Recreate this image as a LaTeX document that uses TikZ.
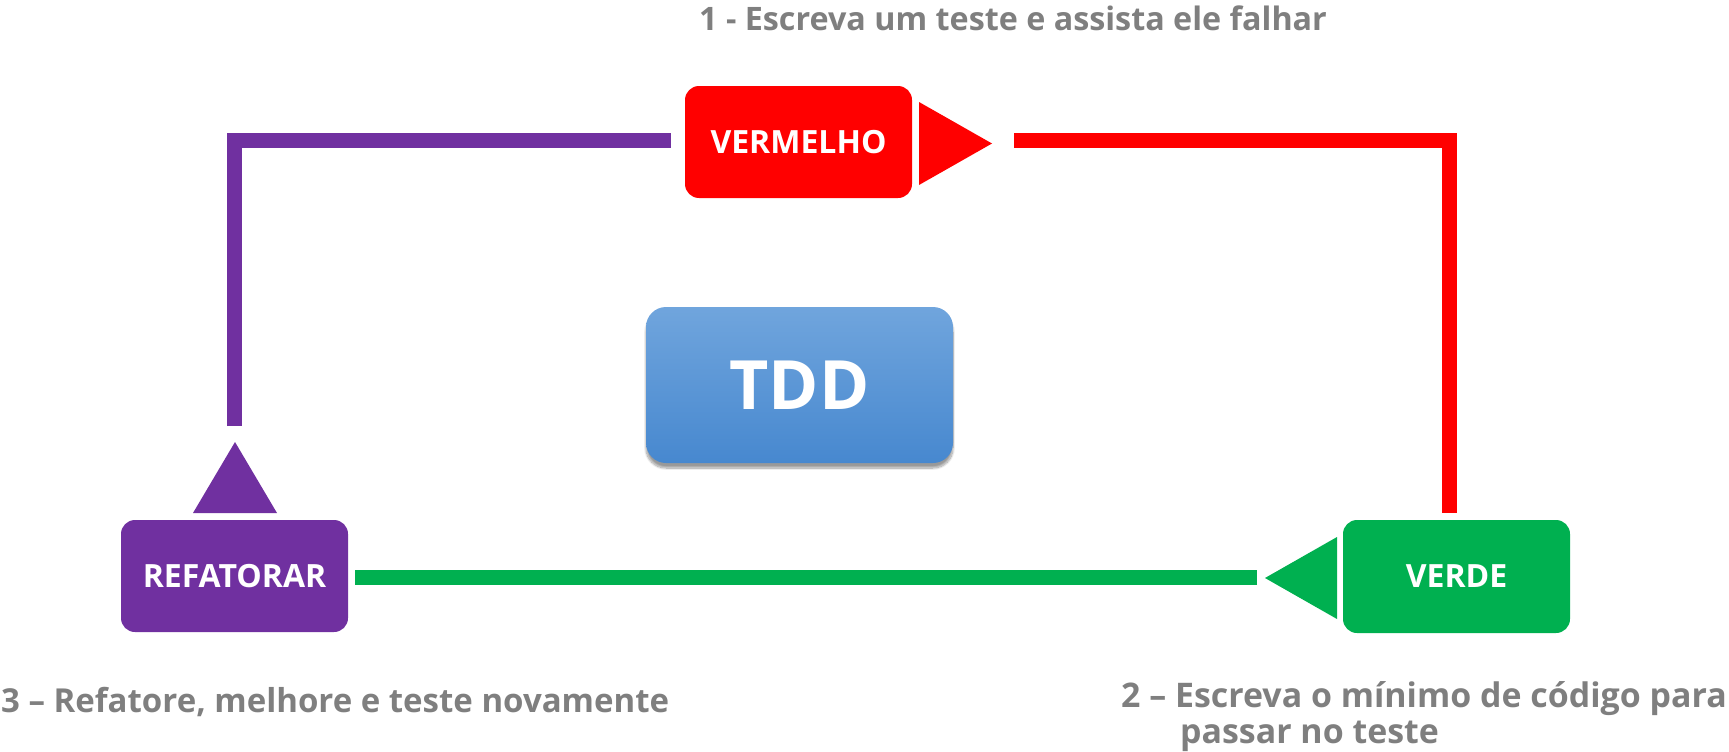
\documentclass[tikz,border=0pt]{standalone}
\usepackage{fontspec}
\setmainfont{Open Sans}
\usetikzlibrary{shadows.blur}
\definecolor{tddred}{HTML}{FF0000}
\definecolor{tddpurple}{HTML}{7030A0}
\definecolor{tddgreen}{HTML}{00B050}
\definecolor{tddtop}{HTML}{70A5DD}
\definecolor{tddbot}{HTML}{4788CF}
\definecolor{tddgray}{HTML}{7F7F7F}
\tikzset{
  stage/.style={rounded corners=14pt, minimum width=227pt, minimum height=112pt, inner sep=0pt,
    text=white, font=\fontsize{32}{36}\selectfont\bfseries},
  flow/.style={line width=15pt, line cap=butt, line join=miter},
  caption/.style={text=tddgray, inner sep=0pt, font=\fontsize{33}{38}\selectfont\bfseries},
}
\begin{document}
\begin{tikzpicture}[x=1pt,y=-1pt]
\useasboundingbox (0,0) rectangle (1729,752);
% boxes
\node[stage, fill=tddred] (verm) at (798.5,142) {VERMELHO};
\node[stage, fill=tddpurple] (ref) at (234.5,576) {REFATORAR};
\node[stage, fill=tddgreen, minimum height=113pt] (verde) at (1456.5,576.5) {VERDE};
\node[rounded corners=20pt, minimum width=307pt, minimum height=156pt, inner sep=0pt,
  top color=tddtop, bottom color=tddbot, draw=none,
  blur shadow={shadow xshift=0pt, shadow yshift=-5pt, shadow blur steps=12, shadow opacity=40},
  text=white, font=\fontsize{68}{76}\selectfont\bfseries] (tdd) at (799.5,385) {TDD};
% connector end points
\coordinate (p1) at (234.5,426);
\coordinate (p2) at (234.5,140.5);
\coordinate (p3) at (671,140.5);
\coordinate (r1) at (1014,140.5);
\coordinate (r2) at (1449.5,140.5);
\coordinate (r3) at (1449.5,513);
\coordinate (g1) at (1257,577);
\coordinate (g2) at (355,577);
% connectors
\draw[flow, tddpurple] (p1) -- (p2) -- (p3);
\draw[flow, tddred] (r1) -- (r2) -- (r3);
\draw[flow, tddgreen] (g1) -- (g2);
% arrow triangles
\fill[tddred] (919,102) -- (919,185) -- (992,143.5) -- cycle;
\fill[tddpurple] (193,513) -- (277,513) -- (235,442) -- cycle;
\fill[tddgreen] (1337,537) -- (1337,619) -- (1265,578) -- cycle;
% captions
\node[caption, anchor=base west, font=\fontsize{32.3}{38}\selectfont\bfseries] (c1) at (699,31) {1 - Escreva um teste e assista ele falhar};
\node[caption, anchor=base west] (c3) at (1,712) {3 – Refatore, melhore e teste novamente};
\node[caption, anchor=base west, font=\fontsize{33.9}{38}\selectfont\bfseries] (c2a) at (1121,707) {2 – Escreva o mínimo de código para};
\node[caption, anchor=base west, font=\fontsize{33.9}{38}\selectfont\bfseries] (c2b) at (1180,743) {passar no teste};
\end{tikzpicture}
\end{document}
